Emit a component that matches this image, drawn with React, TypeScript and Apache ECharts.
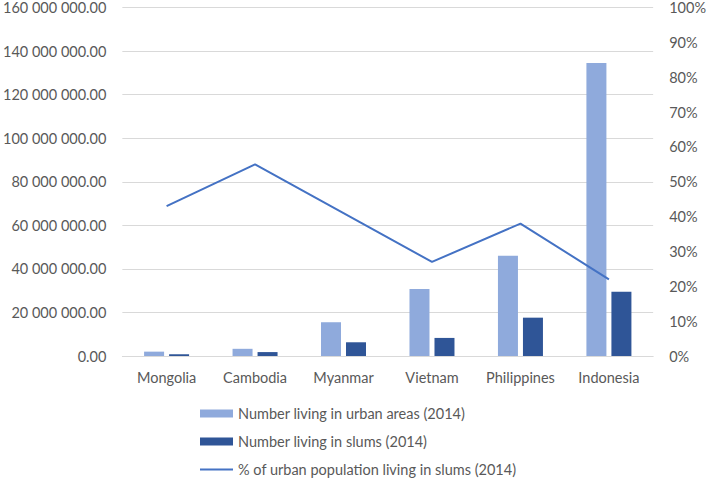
import React, { useEffect, useRef } from "react";
import * as echarts from "echarts";

const categories = ["Mongolia", "Cambodia", "Myanmar", "Vietnam", "Philippines", "Indonesia"];
const urbanPopulation = [2000000, 3300000, 15500000, 30800000, 46000000, 134500000];
const slumPopulation = [800000, 1800000, 6300000, 8300000, 17600000, 29500000];
const slumShare = [0.43, 0.55, 0.41, 0.27, 0.38, 0.22];
const seriesNames = [
  "Number living in urban areas (2014)",
  "Number living in slums (2014)",
  "% of urban population living in slums (2014)",
];

const fmtNumber = (v: number) => {
  const s = Math.round(v).toString().replace(/\B(?=(\d{3})+(?!\d))/g, " ");
  return s + ".00";
};

export default function App() {
  const ref = useRef<HTMLDivElement>(null);
  useEffect(() => {
    document.body.style.margin = "0";
    if (!ref.current) return;
    const chart = echarts.init(ref.current, undefined, { renderer: "svg" });
    const font = "Lato, 'Open Sans', sans-serif";
    const textColor = "#595959";
    const fs = 14.5;
    chart.setOption({
      animation: false,
      textStyle: { fontFamily: font },
      grid: { left: 113, right: 51, top: 6, bottom: 123 },
      legend: [
        {
          orient: "vertical",
          left: 195,
          top: 401,
          height: 80,
          itemWidth: 33,
          itemHeight: 8,
          itemGap: 13,
          textStyle: { fontSize: fs, color: textColor, fontFamily: font },
          data: [
            { name: seriesNames[0], icon: "rect" },
            { name: seriesNames[1], icon: "rect" },
          ],
        },
        {
          orient: "vertical",
          left: 195,
          top: 457,
          itemWidth: 33,
          itemHeight: 2,
          textStyle: { fontSize: fs, color: textColor, fontFamily: font },
          data: [{ name: seriesNames[2], icon: "rect" }],
        },
      ],
      xAxis: {
        type: "category",
        data: categories,
        axisLine: { lineStyle: { color: "#d9d9d9" } },
        axisTick: { show: false },
        axisLabel: { color: textColor, fontSize: fs, margin: 14, interval: 0 },
      },
      yAxis: [
        {
          type: "value",
          min: 0,
          max: 160000000,
          interval: 20000000,
          axisLine: { show: false },
          axisTick: { show: false },
          splitLine: { lineStyle: { color: "#d9d9d9" } },
          axisLabel: { color: textColor, fontSize: fs, margin: 16, formatter: fmtNumber },
        },
        {
          type: "value",
          min: 0,
          max: 1,
          interval: 0.1,
          axisLine: { show: false },
          axisTick: { show: false },
          splitLine: { show: false },
          axisLabel: {
            color: textColor,
            fontSize: fs,
            margin: 16,
            formatter: (v: number) => Math.round(v * 100) + "%",
          },
        },
      ],
      series: [
        {
          name: seriesNames[0],
          type: "bar",
          data: urbanPopulation,
          barWidth: 20,
          barGap: "25%",
          itemStyle: { color: "#8faadc" },
        },
        {
          name: seriesNames[1],
          type: "bar",
          data: slumPopulation,
          barWidth: 20,
          itemStyle: { color: "#2f5597" },
        },
        {
          name: seriesNames[2],
          type: "line",
          yAxisIndex: 1,
          data: slumShare,
          symbol: "none",
          lineStyle: { color: "#4472c4", width: 2 },
          itemStyle: { color: "#4472c4" },
        },
      ],
    });
    return () => chart.dispose();
  }, []);
  return <div ref={ref} style={{ width: 709, height: 479 }} />;
}
